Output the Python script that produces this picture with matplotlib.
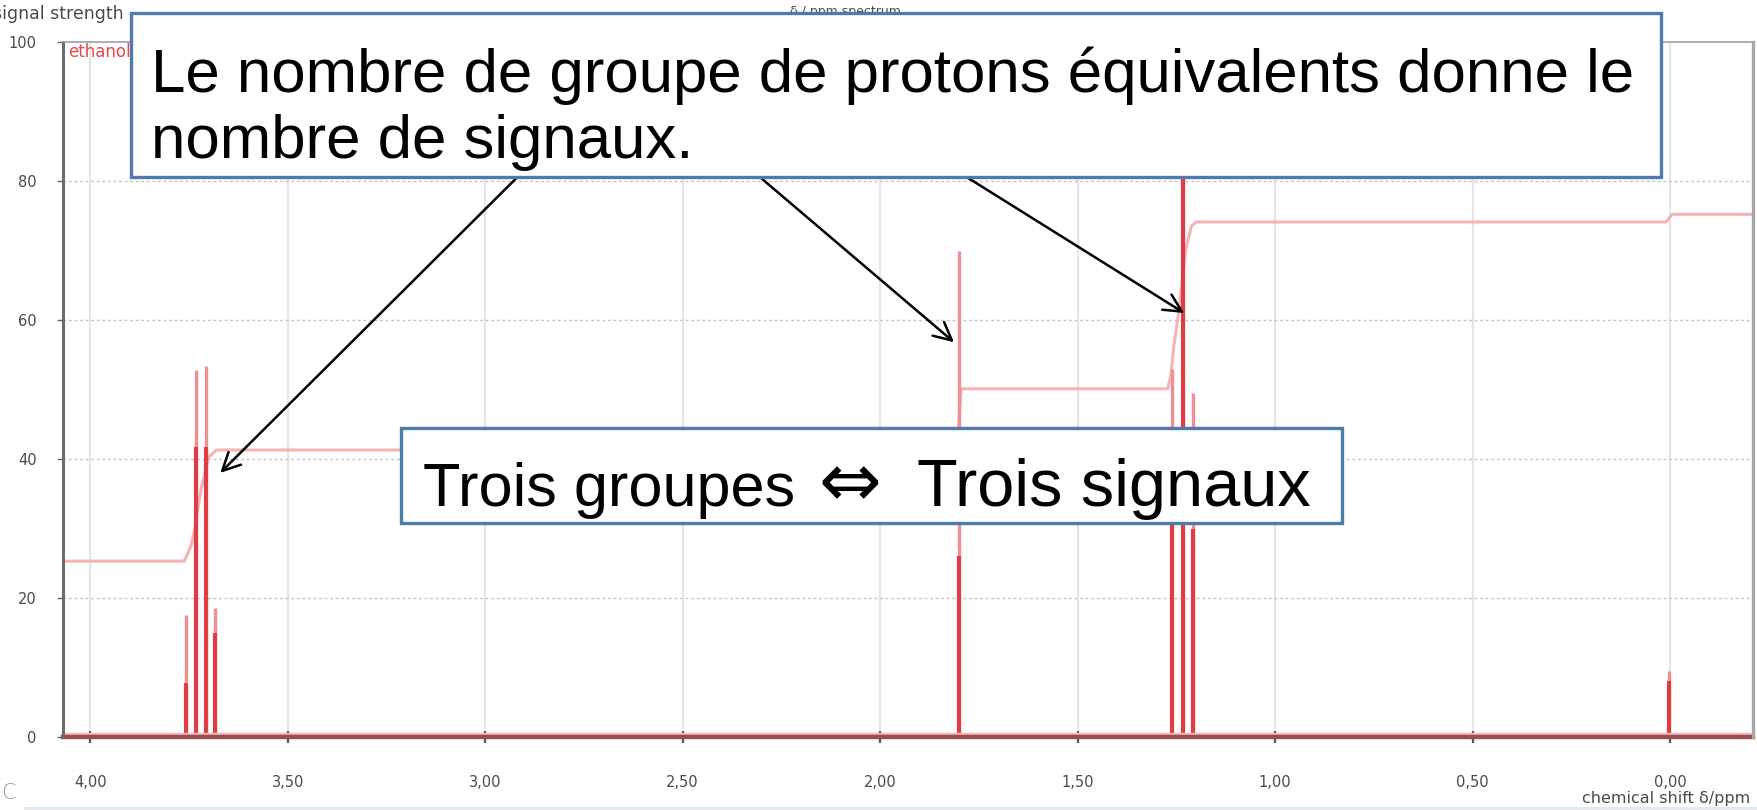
import matplotlib
matplotlib.use("Agg")
import matplotlib.pyplot as plt
from matplotlib.patches import Rectangle

# --- ethanol 1H NMR spectrum: line positions (ppm) and heights (signal strength) ---
quartet_ppm = [3.757, 3.731, 3.707, 3.683]
quartet_high = [17.6, 52.8, 53.4, 18.6]
quartet_low = [7.8, 41.7, 41.7, 15.0]

oh_ppm = [1.800]
oh_high = [70.0]
oh_low = [26.0]

triplet_ppm = [1.260, 1.234, 1.208]
triplet_high = [53.0, 106.0, 49.5]
triplet_low = [40.0, 88.0, 30.0]

tms_ppm = [0.003]
tms_high = [9.5]
tms_low = [8.0]

# integration trace
integral_ppm = [4.10, 3.762, 3.745, 3.735, 3.720, 3.700, 3.680,
                1.805, 1.795, 1.272, 1.264, 1.257, 1.242, 1.227, 1.212, 1.200,
                0.010, -0.005, -0.25]
integral_val = [25.3, 25.3, 27.5, 30.0, 35.5, 40.3, 41.3,
                41.3, 50.1, 50.1, 52.0, 56.0, 62.0, 70.0, 73.5, 74.1,
                74.1, 75.2, 75.2]

x_ticks = [4.0, 3.5, 3.0, 2.5, 2.0, 1.5, 1.0, 0.5, 0.0]
x_tick_labels = ["4,00", "3,50", "3,00", "2,50", "2,00", "1,50", "1,00", "0,50", "0,00"]
y_ticks = [0, 20, 40, 60, 80, 100]
y_tick_labels = ["0", "20", "40", "60", "80", "100"]

W, H = 1758, 810


def fx(px):
    return px / W


def fy(py):
    return 1 - py / H


fig = plt.figure(figsize=(W / 100, H / 100), dpi=100)
fig.patch.set_facecolor("white")

ax = fig.add_axes([fx(63), fy(737), fx(1753) - fx(63), fy(42) - fy(737)])
ax.set_xlim(4.069, -0.21)
ax.set_ylim(0, 100)

# grid
for xt in x_ticks:
    ax.axvline(xt, color="#e6e6e6", lw=1.6, zorder=0)
for yt in y_ticks[1:-1]:
    ax.axhline(yt, color="#c4c4c4", lw=1.0, ls=(0, (2, 2)), zorder=0)

# integration curve
ax.plot(integral_ppm, integral_val, color="#f5b3b3", lw=2.2, zorder=2)

# spectrum: faint full-height trace and stronger inner trace
all_ppm = quartet_ppm + oh_ppm + triplet_ppm + tms_ppm
all_high = quartet_high + oh_high + triplet_high + tms_high
all_low = quartet_low + oh_low + triplet_low + tms_low
ax.vlines(all_ppm, 0, all_high, color="#ee8f93", lw=2.4, zorder=3)
ax.vlines(all_ppm, 0, all_low, color="#df3d43", lw=3.0, zorder=4)

# baseline
ax.axhline(0.5, color="#f4b8b8", lw=2.5, zorder=4)
ax.axhline(0, color="#9b4d4f", lw=3.2, zorder=5, clip_on=False)

# spines
for side in ["top", "right", "left", "bottom"]:
    ax.spines[side].set_zorder(6)
ax.spines["left"].set_color("#6b6b6b")
ax.spines["left"].set_linewidth(2.2)
ax.spines["right"].set_color("#a8a8a8")
ax.spines["right"].set_linewidth(2.4)
ax.spines["top"].set_color("#a0a0a0")
ax.spines["top"].set_linewidth(1.2)
ax.spines["bottom"].set_visible(False)

ax.set_xticks(x_ticks)
ax.set_xticklabels(x_tick_labels)
ax.set_yticks(y_ticks)
ax.set_yticklabels(y_tick_labels)
ax.tick_params(axis="x", direction="inout", length=9, width=1.6, color="#555555",
               labelsize=10.5, labelcolor="#4a4a4a", pad=23)
ax.tick_params(axis="y", direction="out", length=4, width=1.0, color="#666666",
               labelsize=10.5, labelcolor="#4a4a4a", pad=15)

ax.text(0.003, 0.9856, "ethanol", transform=ax.transAxes, color="#e8474c",
        fontsize=12, va="center", ha="left", zorder=7)

# axis captions and header text
fig.text(fx(-7), fy(14), "signal strength", fontsize=12.5, color="#4a4a4a",
         va="center", ha="left", zorder=1)
fig.text(fx(790), fy(11), "δ / ppm spectrum", fontsize=9, color="#4a4a4a",
         va="center", ha="left", zorder=1)
fig.text(fx(1750), fy(799), "chemical shift δ/ppm", fontsize=11.5, color="#4a4a4a",
         va="center", ha="right", zorder=1)
fig.text(fx(1), fy(793), "C", fontsize=15, color="#9a9a9a", va="center", ha="left",
         fontweight="light")
fig.add_artist(plt.Line2D([fx(25), fx(1758)], [fy(808), fy(808)],
                          transform=fig.transFigure, color="#e1e6ec", lw=2))

# callout boxes
box_edge = "#4f7aac"
box_font = ["Liberation Sans", "DejaVu Sans"]
fig.add_artist(Rectangle((fx(131), fy(177)), fx(1661) - fx(131), fy(13) - fy(177),
                         transform=fig.transFigure, facecolor="white",
                         edgecolor=box_edge, lw=2.4, zorder=10))
fig.text(fx(151), fy(92), "Le nombre de groupe de protons équivalents donne le",
         fontsize=44.5, family=box_font, color="black",
         va="baseline", ha="left", zorder=11)
fig.text(fx(151), fy(158), "nombre de signaux.",
         fontsize=44.5, family=box_font, color="black",
         va="baseline", ha="left", zorder=11)

fig.add_artist(Rectangle((fx(401), fy(523)), fx(1342) - fx(401), fy(428) - fy(523),
                         transform=fig.transFigure, facecolor="white",
                         edgecolor=box_edge, lw=2.4, zorder=10))
fig.text(fx(423), fy(506), "Trois groupes", fontsize=44, family=box_font,
         color="black", va="baseline", ha="left", zorder=11)
fig.text(fx(850), fy(506), "⇔", fontsize=54, family=["DejaVu Sans"],
         color="black", va="baseline", ha="center", zorder=11)
fig.text(fx(917), fy(506), "Trois signaux", fontsize=48, family=box_font,
         color="black", va="baseline", ha="left", zorder=11)

# arrows from the upper callout to each signal
arrow_tips = [(3.671, 38.0), (1.813, 56.8), (1.230, 61.0)]
arrow_tails = [(2.916, 80.7), (2.299, 80.3), (1.782, 80.6)]
for tip, tail in zip(arrow_tips, arrow_tails):
    ax.annotate("", xy=tip, xytext=tail, xycoords="data", textcoords="data",
                arrowprops=dict(arrowstyle="->", color="black", lw=1.8,
                                mutation_scale=32, shrinkA=0, shrinkB=0),
                zorder=9, annotation_clip=False)

fig.savefig("out.png", dpi=100, facecolor="white")
